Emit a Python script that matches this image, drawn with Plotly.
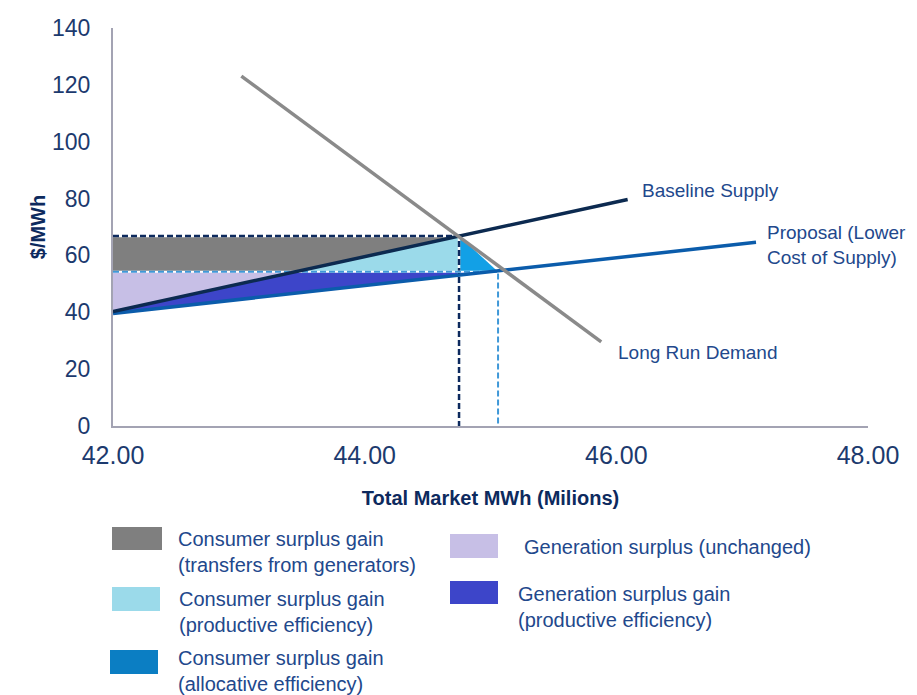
import plotly.graph_objects as go

# ---------------- data ----------------
x_range = [42, 48]
y_range = [0, 140]
x_ticks = [42, 44, 46, 48]
x_tick_labels = ["42.00", "44.00", "46.00", "48.00"]
y_ticks = [0, 20, 40, 60, 80, 100, 120, 140]

demand_x = [43.02, 45.88]
demand_y = [123.1, 29.6]

baseline_x = [42.0, 46.09]
baseline_y = [40.3, 79.7]

proposal_x = [42.0, 47.11]
proposal_y = [39.6, 64.6]

# equilibria
q_base, p_base = 44.75, 66.8      # baseline equilibrium
q_prop, p_prop = 45.06, 54.3      # proposal equilibrium

line_labels = ["Baseline Supply", "Proposal (Lower<br>Cost of Supply)", "Long Run Demand"]
label_x = [46.19, 47.18, 46.0]
label_y = [82.8, 63.5, 25.8]

legend_labels = [
    "Consumer surplus gain<br>(transfers from generators)",
    "Consumer surplus gain<br>(productive efficiency)",
    "Consumer surplus gain<br>(allocative efficiency)",
    "Generation surplus (unchanged)",
    "Generation surplus gain<br>(productive efficiency)",
]

# ---------------- styling ----------------
C_GRAY = "#7F7F7F"
C_LBLUE = "#9BDAEA"
C_ALLOC = "#12A0E6"
C_ALLOC_LEG = "#0B7EC3"
C_LAV = "#C7BFE6"
C_DBLUE = "#3D45C9"
C_BASE = "#0C2A50"
C_PROP = "#0B5CAB"
C_DEM = "#8A8A8A"
C_NAVY = "#0D2A5E"
C_DASH2 = "#3F98D8"
TXT = "#22488C"
TICK = "#1C3A6E"
FONT = "Liberation Sans, Arial, sans-serif"

# baseline supply crossing the new price
b_slope = (baseline_y[1] - baseline_y[0]) / (baseline_x[1] - baseline_x[0])
xb = baseline_x[0] + (p_prop - baseline_y[0]) / b_slope

fig = go.Figure()


def poly(xs, ys, color):
    fig.add_trace(go.Scatter(x=xs, y=ys, mode="lines", fill="toself",
                             fillcolor=color, line=dict(width=0, color=color),
                             hoverinfo="skip", showlegend=False))


x0 = x_range[0]
poly([x0, x0, q_base, xb, x0], [p_prop, p_base, p_base, p_prop, p_prop], C_GRAY)
poly([xb, q_base, q_base, xb], [p_prop, p_base, p_prop, p_prop], C_LBLUE)
poly([q_base, q_prop, q_base, q_base], [p_base, p_prop, p_prop, p_base], C_ALLOC)
poly([x0, x0, xb, x0], [baseline_y[0], p_prop, p_prop, baseline_y[0]], C_LAV)
poly([x0, xb, q_prop, x0, x0], [baseline_y[0], p_prop, p_prop, proposal_y[0], baseline_y[0]], C_DBLUE)


def line(xs, ys, color, width, dash="solid"):
    fig.add_trace(go.Scatter(x=xs, y=ys, mode="lines",
                             line=dict(color=color, width=width, dash=dash),
                             hoverinfo="skip", showlegend=False))


# dashed guide lines (white underlay then dashes)
guide_base_x = [x0, q_base, q_base]
guide_base_y = [p_base, p_base, y_range[0]]
guide_prop_x = [x0, q_prop, q_prop]
guide_prop_y = [p_prop, p_prop, y_range[0]]
line(guide_base_x, guide_base_y, "white", 2.5)
line(guide_base_x, guide_base_y, C_NAVY, 2.5, "6px,3px")
line(guide_prop_x, guide_prop_y, "white", 2)
line(guide_prop_x, guide_prop_y, C_DASH2, 2, "6px,3px")

line(proposal_x, proposal_y, C_PROP, 3.5)
line(baseline_x, baseline_y, C_BASE, 3.5)
line(demand_x, demand_y, C_DEM, 3.5)

for t, lx, ly in zip(line_labels, label_x, label_y):
    fig.add_annotation(x=lx, y=ly, text=t, showarrow=False, xanchor="left",
                       yanchor="middle", align="left",
                       font=dict(family=FONT, size=19, color=TXT))

# ---------------- custom legend below the plot ----------------
L, T, W, H = 113, 28, 755, 398


def px(xp):
    return (xp - L) / W


def py(yp):
    return (T + H - yp) / H


legend_boxes = [
    (112, 162, 527, 550, C_GRAY),
    (112, 160, 587, 611, C_LBLUE),
    (110, 158, 650, 674, C_ALLOC_LEG),
    (450, 498, 534, 558, C_LAV),
    (450, 498, 581, 604, C_DBLUE),
]
legend_text_pos = [(176, 552), (177, 612), (176, 671), (522, 547), (516, 607)]

for (a, b, c, d, col), lab, (tx, ty) in zip(legend_boxes, legend_labels, legend_text_pos):
    fig.add_shape(type="rect", xref="paper", yref="paper",
                  x0=px(a), x1=px(b), y0=py(d), y1=py(c),
                  fillcolor=col, line=dict(width=0))
    fig.add_annotation(xref="paper", yref="paper", x=px(tx), y=py(ty), text=lab,
                       showarrow=False, xanchor="left", yanchor="middle", align="left",
                       font=dict(family=FONT, size=20, color=TXT))

fig.update_layout(
    width=917, height=695,
    margin=dict(l=L, r=917 - L - W, t=T, b=695 - T - H),
    plot_bgcolor="white", paper_bgcolor="white",
    showlegend=False,
    font=dict(family=FONT),
    xaxis=dict(range=x_range, tickvals=x_ticks, ticktext=x_tick_labels,
               showgrid=False, zeroline=False, showline=True,
               linecolor="#A3A3B3", linewidth=2,
               ticks="outside", ticklen=6, tickcolor="rgba(0,0,0,0)",
               tickfont=dict(family=FONT, size=25, color=TICK),
               title=dict(text="<b>Total Market MWh (Milions)</b>", standoff=23,
                          font=dict(family=FONT, size=20, color=C_NAVY))),
    yaxis=dict(range=y_range, tickvals=y_ticks,
               showgrid=False, zeroline=False, showline=True,
               linecolor="#A3A3B3", linewidth=2,
               ticks="outside", ticklen=16, tickcolor="rgba(0,0,0,0)",
               tickfont=dict(family=FONT, size=23, color=TICK),
               title=dict(text="<b>$/MWh</b>", standoff=1,
                          font=dict(family=FONT, size=20, color=C_NAVY))),
)

fig.write_html("out.html",
               config={"displayModeBar": False},
               post_script="document.body.style.margin='0';document.body.style.overflow='hidden';")
